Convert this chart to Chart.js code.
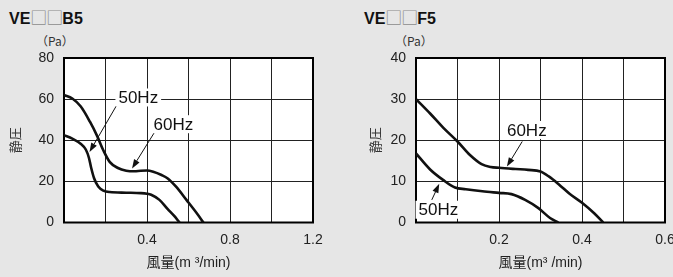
<!DOCTYPE html>
<html lang="ja">
<head>
<meta charset="utf-8">
<title>静圧-風量特性</title>
<script src="https://cdn.jsdelivr.net/npm/chart.js@4.4.1/dist/chart.umd.min.js"></script>
<style>
  html, body { margin: 0; padding: 0; width: 673px; height: 277px; overflow: hidden; background: #e6e6e6; }
  canvas { position: absolute; top: 0; }
  #chartB5 { left: 0; }
  #chartF5 { left: 336px; }
  .model { position: absolute; top: 4px; font: bold 16px 'Liberation Sans', Arial, sans-serif; color: #111; white-space: nowrap; }
  .model .box { font-family: 'Noto Sans CJK JP', sans-serif; font-weight: normal; font-size: 17px; color: #8c8c8c; letter-spacing: -1px; }
  .unit { position: absolute; top: 32px; font: 12px 'Noto Sans CJK JP', sans-serif; color: #333; }
</style>
</head>
<body>
<div class="model" style="left:9px">VE<span class="box">□□</span>B5</div>
<div class="unit" style="left:36px">（Pa）</div>
<div class="model" style="left:364px">VE<span class="box">□□</span>F5</div>
<div class="unit" style="left:395px">（Pa）</div>
<canvas id="chartB5" width="336" height="277"></canvas>
<canvas id="chartF5" width="354" height="277"></canvas>

<script>
// ============================================================
// 静圧-風量特性 (VE□□B5 / VE□□F5)
// ============================================================

/* ── Data: VE□□B5 ─────────────────────────────────────── */
const b5Flow50 = [0, 0.04, 0.08, 0.105, 0.12, 0.13, 0.145, 0.165, 0.19, 0.22, 0.3, 0.37, 0.4, 0.42, 0.46, 0.5, 0.53, 0.557];
const b5Pres50 = [42.5, 40.8, 38.3, 35.5, 31.5, 27, 21.5, 17.5, 15.5, 14.8, 14.5, 14.3, 14, 13.5, 11, 6.5, 3.3, 0];
const b5Flow60 = [0, 0.04, 0.08, 0.125, 0.16, 0.19, 0.22, 0.26, 0.3, 0.34, 0.37, 0.4, 0.43, 0.47, 0.5, 0.54, 0.59, 0.64, 0.672];
const b5Pres60 = [62, 60.3, 56.5, 49, 42, 35, 29.5, 26.5, 25.2, 24.9, 25.2, 25.3, 24.7, 23.1, 21.4, 17.4, 11, 4.5, 0];
const b5XTicks = ['0.4', '0.8', '1.2'];
const b5YTicks = [0, 20, 40, 60, 80];

/* ── Data: VE□□F5 ─────────────────────────────────────── */
const f5Flow50 = [0, 0.034, 0.066, 0.094, 0.12, 0.16, 0.2, 0.23, 0.263, 0.295, 0.323, 0.343];
const f5Pres50 = [16.8, 12.9, 10.3, 8.5, 8.1, 7.6, 7.2, 6.9, 5.5, 3.5, 1.1, 0];
const f5Flow60 = [0, 0.034, 0.066, 0.1, 0.13, 0.158, 0.18, 0.2, 0.24, 0.27, 0.3, 0.32, 0.345, 0.37, 0.4, 0.43, 0.451];
const f5Pres60 = [30, 26.5, 23, 19.7, 16.4, 14.2, 13.5, 13.3, 13, 12.8, 12.4, 11.2, 9.2, 7, 4.8, 2.2, 0];
const f5XTicks = ['0.2', '0.4', '0.6'];
const f5YTicks = [0, 10, 20, 30, 40];

// Callouts (label centre and arrow, in data units)
const b5Notes = [
  { text: '50Hz', x: 0.358, y: 60.8, fromX: 0.263, fromY: 58.6, toX: 0.123, toY: 34.3 },
  { text: '60Hz', x: 0.527, y: 47.8, fromX: 0.437, fromY: 44,   toX: 0.328, toY: 26.3 }
];
const f5Notes = [
  { text: '60Hz', x: 0.267, y: 22.5, fromX: 0.256, fromY: 19.7, toX: 0.219, toY: 13.6 },
  { text: '50Hz', x: 0.054, y: 3.1,  fromX: 0.038, fromY: 5.5,  toX: 0.056, toY: 9.4 }
];

const LATIN = "'Liberation Sans', Arial, 'Noto Sans CJK JP', sans-serif";
const JP    = "'Noto Sans CJK JP', sans-serif";
const INK   = '#111';

const zip = (xs, ys) => xs.map((x, i) => ({ x, y: ys[i] }));

/* ── Plugins ───────────────────────────────────────────── */
const plotBg = {
  id: 'plotBg',
  beforeDraw(chart) {
    const { ctx, chartArea: a } = chart;
    ctx.save();
    ctx.fillStyle = '#fff';
    ctx.fillRect(a.left, a.top, a.width, a.height);
    ctx.restore();
  }
};

const frame = {
  id: 'frame',
  beforeDatasetsDraw(chart) {
    const { ctx, chartArea: a } = chart;
    ctx.save();
    ctx.strokeStyle = '#000';
    ctx.lineWidth = 2;
    ctx.strokeRect(a.left, a.top, a.width, a.height);
    ctx.restore();
  }
};

const callouts = {
  id: 'callouts',
  afterDatasetsDraw(chart, args, opts) {
    const { ctx, scales: { x, y } } = chart;
    ctx.save();
    (opts.notes || []).forEach(n => {
      const fx = x.getPixelForValue(n.fromX), fy = y.getPixelForValue(n.fromY);
      const tx = x.getPixelForValue(n.toX),   ty = y.getPixelForValue(n.toY);
      const ang = Math.atan2(ty - fy, tx - fx);
      const head = 9, half = 3.2;

      ctx.strokeStyle = INK;
      ctx.fillStyle = INK;
      ctx.lineWidth = 1;
      ctx.beginPath();
      ctx.moveTo(fx, fy);
      ctx.lineTo(tx - Math.cos(ang) * head, ty - Math.sin(ang) * head);
      ctx.stroke();

      ctx.beginPath();
      ctx.moveTo(tx, ty);
      ctx.lineTo(tx - Math.cos(ang) * head - Math.sin(ang) * half, ty - Math.sin(ang) * head + Math.cos(ang) * half);
      ctx.lineTo(tx - Math.cos(ang) * head + Math.sin(ang) * half, ty - Math.sin(ang) * head - Math.cos(ang) * half);
      ctx.closePath();
      ctx.fill();

      // label on a white patch so grid lines break around it
      const cx = x.getPixelForValue(n.x), cy = y.getPixelForValue(n.y);
      ctx.font = `17px ${LATIN}`;
      const w = ctx.measureText(n.text).width;
      ctx.fillStyle = '#fff';
      ctx.fillRect(cx - w / 2 - 3, cy - 9, w + 6, 18);
      ctx.fillStyle = INK;
      ctx.textAlign = 'center';
      ctx.textBaseline = 'middle';
      ctx.fillText(n.text, cx, cy + 1);
    });
    ctx.restore();
  }
};

/* ── Chart builder ─────────────────────────────────────── */
function curve(label, xs, ys) {
  return {
    label,
    data: zip(xs, ys),
    borderColor: INK,
    borderWidth: 2.6,
    pointRadius: 0,
    fill: false,
    cubicInterpolationMode: 'monotone'
  };
}

function makeChart(id, cfg) {
  const tickFont = { family: LATIN, size: 14 };
  return new Chart(document.getElementById(id), {
    type: 'line',
    data: {
      datasets: [
        curve('50Hz', cfg.flow50, cfg.pres50),
        curve('60Hz', cfg.flow60, cfg.pres60)
      ]
    },
    options: {
      responsive: false,
      animation: false,
      layout: { padding: { top: 58, right: cfg.padRight, bottom: 0, left: 0 } },
      plugins: {
        legend: { display: false },
        tooltip: { enabled: false },
        callouts: { notes: cfg.notes }
      },
      scales: {
        x: {
          type: 'linear',
          min: 0,
          max: cfg.xMax,
          grid: { color: '#222', lineWidth: 1, drawTicks: false },
          border: { display: false },
          ticks: {
            stepSize: cfg.xStep,
            autoSkip: false,
            maxRotation: 0,
            padding: 9,
            color: '#222',
            font: tickFont,
            callback: v => {
              const s = String(Math.round(v * 100) / 100);
              return cfg.xTicks.includes(s) ? s : '';
            }
          },
          title: {
            display: true,
            text: cfg.xTitle,
            color: '#222',
            font: { family: LATIN, size: 14 },
            padding: { top: 0, bottom: 5 }
          },
          afterFit: s => { s.height = 54.5; }
        },
        y: {
          min: cfg.yTicks[0],
          max: cfg.yTicks[cfg.yTicks.length - 1],
          grid: { color: '#222', lineWidth: 1, drawTicks: false },
          border: { display: false },
          ticks: {
            stepSize: cfg.yTicks[1] - cfg.yTicks[0],
            padding: 10,
            color: '#222',
            font: tickFont
          },
          title: {
            display: true,
            text: '静圧',
            color: '#333',
            font: { family: JP, size: 13 },
            padding: { top: cfg.yTitlePad, bottom: 0 }
          },
          afterFit: s => { s.width = cfg.yWidth; }
        }
      }
    },
    plugins: [plotBg, frame, callouts]
  });
}

document.addEventListener('DOMContentLoaded', () => {
  makeChart('chartB5', {
    flow50: b5Flow50, pres50: b5Pres50, flow60: b5Flow60, pres60: b5Pres60,
    xTicks: b5XTicks, yTicks: b5YTicks, xMax: 1.2, xStep: 0.2,
    xTitle: '風量(m ³/min)', notes: b5Notes,
    yWidth: 64, yTitlePad: 7, padRight: 23
  });

  makeChart('chartF5', {
    flow50: f5Flow50, pres50: f5Pres50, flow60: f5Flow60, pres60: f5Pres60,
    xTicks: f5XTicks, yTicks: f5YTicks, xMax: 0.6, xStep: 0.1,
    xTitle: '風量(m³ /min)', notes: f5Notes,
    yWidth: 80, yTitlePad: 31, padRight: 25
  });
});
</script>
</body>
</html>
